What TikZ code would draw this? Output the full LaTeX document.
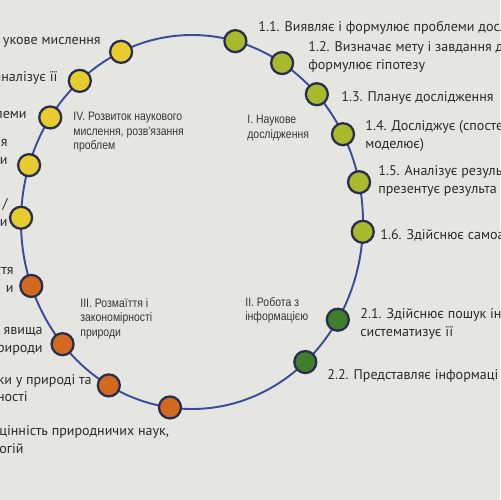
\documentclass[tikz,border=0pt]{standalone}
\usepackage{fontspec}
\setmainfont{PT Sans}
\newfontfamily\narrowfont[FakeStretch=0.85]{Liberation Sans}
\usetikzlibrary{positioning}
\definecolor{paper}{HTML}{E5E5E2}
\definecolor{ringblue}{HTML}{3B4C9B}
\definecolor{dotedge}{HTML}{2B2D4F}
\definecolor{dotyellow}{HTML}{E6CC2E}
\definecolor{dotlime}{HTML}{A8B92C}
\definecolor{dotgreen}{HTML}{3F7E2B}
\definecolor{dotorange}{HTML}{D2691F}
\definecolor{txt}{HTML}{2C2C2C}

\begin{document}
\begin{tikzpicture}[
  x=0.02cm, y=-0.02cm,
  ring/.style={draw=ringblue, line width=1.1pt},
  dot/.style={circle, minimum size=0.44cm, inner sep=0pt,
              draw=dotedge, line width=1.3pt},
  outer/.style={inner sep=0pt, text=txt, align=left,
                font=\fontsize{8}{10.2}\selectfont},
  outerl/.style={outer, align=right, anchor=north east},
  outerr/.style={outer, anchor=north west},
  inner/.style={inner sep=0pt, text=txt!95, align=left, anchor=north west,
                font=\narrowfont\fontsize{7}{8.3}\selectfont}
]
\useasboundingbox (0,0) rectangle (500,500);
\fill[paper] (0,0) rectangle (500,500);
\clip (0,0) rectangle (500,500);

% ring and its points
\coordinate (ctr) at (192,222);
\draw[ring] (ctr) ellipse [x radius=171, y radius=187];
\foreach \nm/\a/\c in {d11/75.3/dotlime, d12/58.2/dotlime, d13/43.1/dotlime,
    d14/28/dotlime, d15/12.3/dotlime, d16/-3/dotlime,
    d21/-31.5/dotgreen, d22/-48.5/dotgreen,
    d31/262.6/dotorange, d32/240.9/dotorange, d33/220.8/dotorange, d34/200/dotorange,
    d41/178.7/dotyellow, d42/162.3/dotyellow, d43/146/dotyellow,
    d44/131/dotyellow, d45/114.5/dotyellow}
  \node[dot, fill=\c] (\nm) at ({192+171*cos(\a)},{222-187*sin(\a)}) {};

% section titles inside the ring
\node[inner] (tI) at (247,115) {I. Наукове\\дослідження};
\node[inner] (tII) at (245,297) {II. Робота з\\інформацією};
\node[inner] (tIII) at (80,298) {III. Розмаїття і\\закономірності\\природи};
\node[inner] (tIV) at (73,112) {IV. Розвиток наукового\\мислення, розв'язання\\проблем};

% right labels
\node[outerr] (l11) at (258,21) {1.1. Виявляє і формулює проблеми досл};
\node[outerr] (l12) at (308,41) {1.2. Визначає мету і завдання д\\формулює гіпотезу};
\node[outerr] (l13) at (341,91) {1.3. Планує дослідження};
\node[outerr] (l14) at (365,120) {1.4. Досліджує (спосте\\моделює)};
\node[outerr] (l15) at (378,165) {1.5. Аналізує резуль\\презентує результа};
\node[outerr] (l16) at (380,229) {1.6. Здійснює самоа};
\node[outerr] (l21) at (360,308) {2.1. Здійснює пошук ін\\систематизує її};
\node[outerr] (l22) at (327,369) {2.2. Представляє інформаці};

% left labels
\node[outerl] (l45) at (101,37) {укове мислення};
\node[outerl] (l44) at (58,71) {аналізує її};
\node[outerl] (l43) at (27,111) {леми};
\node[outerl] (l42) at (8,139) {ля\\и};
\node[outerl] (l41) at (8,198) {/\\и};
\node[outerl] (l34) at (14,267) {ття\\и};
\node[outerl] (l33) at (43,327) {явища\\рироди};
\node[outerl] (l32) at (92,374) {ки у природі та};
\node[outerl] (l32b) at (28,391) {ності};
\node[outerr] (l31) at (-1,425) {цінність природничих наук,\\огій};
\end{tikzpicture}
\end{document}
